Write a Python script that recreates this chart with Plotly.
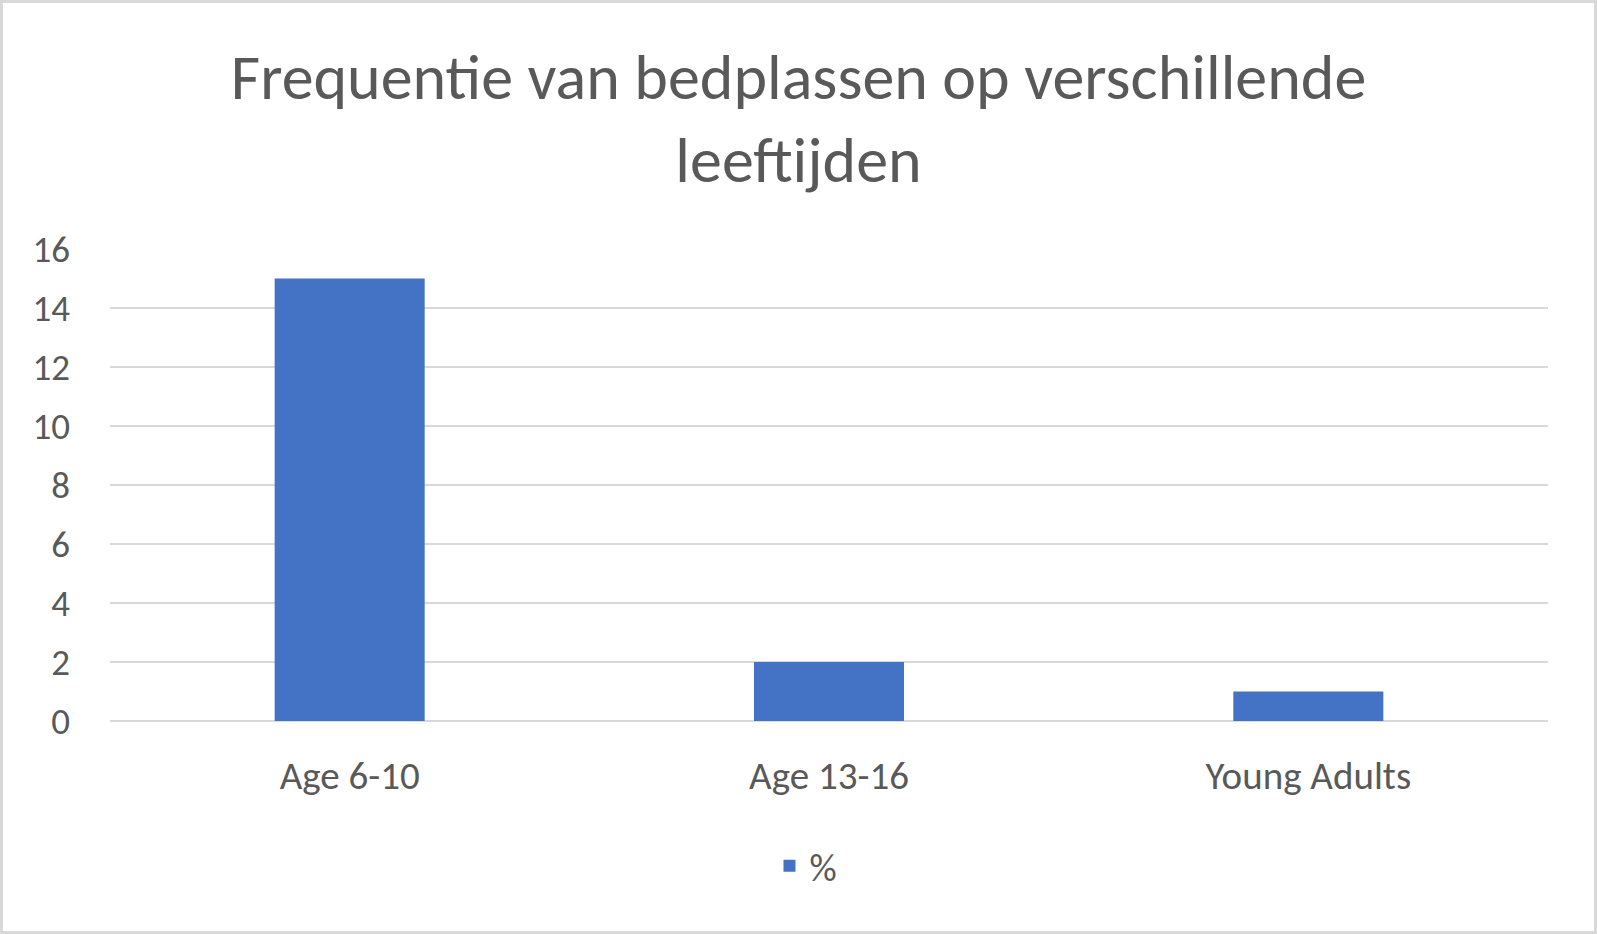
import plotly.graph_objects as go

categories = ["Age 6-10", "Age 13-16", "Young Adults"]
values = [15, 2, 1]
series_name = "%"
y_ticks = [0, 2, 4, 6, 8, 10, 12, 14, 16]
title_text = "Frequentie van bedplassen op verschillende<br>leeftijden"

W, H = 1597, 934
L, R, T, B = 110, 49, 249, 213
FONT = "Carlito, Calibri, Lato, sans-serif"
GREY = "#595959"
GRID = "#d9d9d9"

fig = go.Figure()
fig.add_trace(go.Bar(x=categories, y=values, name=series_name,
                     marker=dict(color="#4472c4", line=dict(width=0))))

pw = W - L - R
ph = H - T - B
fig.update_layout(
    width=W, height=H,
    margin=dict(l=L, r=R, t=T, b=B, pad=0),
    paper_bgcolor="white", plot_bgcolor="white",
    font=dict(family=FONT, color=GREY, size=36),
    title=dict(text=title_text, x=0.5, xanchor="center", xref="container",
               y=1 - 99 / H, yanchor="middle",
               font=dict(family=FONT, size=64, color=GREY)),
    bargap=0.687,
    showlegend=True,
    legend=dict(orientation="h", x=0.484, xanchor="center",
                y=(721 - 866) / ph, yanchor="middle",
                font=dict(size=38, color=GREY), bgcolor="rgba(0,0,0,0)"),
    xaxis=dict(showgrid=False, showline=False, zeroline=False, ticks="",
               tickfont=dict(size=39, color=GREY), ticklabelstandoff=28),
    yaxis=dict(range=[0, 16], tickvals=y_ticks, showgrid=True, gridcolor=GRID,
               gridwidth=2, zeroline=True, zerolinecolor=GRID, zerolinewidth=2,
               showline=False, ticks="", tickfont=dict(size=37, color=GREY),
               ticklabelstandoff=39),
    shapes=[dict(type="rect", xref="paper", yref="paper",
                 x0=(1.5 - L) / pw, x1=(W - 1.5 - L) / pw,
                 y0=(721 - (H - 1.5)) / ph, y1=(721 - 1.5) / ph,
                 line=dict(color=GRID, width=3), fillcolor="rgba(0,0,0,0)",
                 layer="below")],
)

fig.write_html("out.html")
